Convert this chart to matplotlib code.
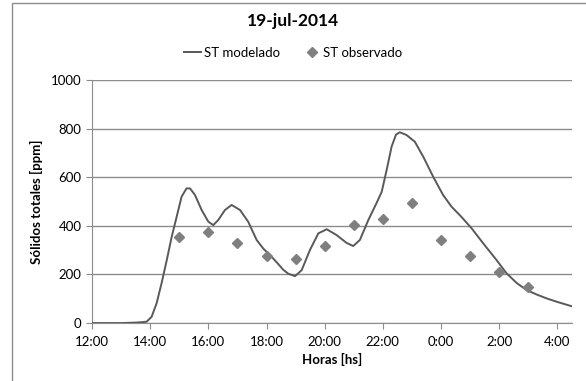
import matplotlib.pyplot as plt
from matplotlib.patches import Rectangle

# hours after 12:00
model_h = [0.0, 1.0, 1.5, 1.75, 1.88, 2.05, 2.22, 2.39, 2.57, 2.74, 2.91, 3.08, 3.25,
           3.37, 3.54, 3.77, 4.0, 4.17, 4.34, 4.57, 4.8, 5.09, 5.37, 5.66, 5.9,
           6.12, 6.35, 6.57, 6.75, 6.98, 7.21, 7.49, 7.78, 8.07, 8.41, 8.75,
           8.98, 9.21, 9.5, 9.78, 9.96, 10.13, 10.3, 10.45, 10.58, 10.81, 11.1,
           11.39, 11.73, 12.07, 12.36, 12.7, 13.05, 13.45, 13.91, 14.25, 14.6,
           14.94, 15.3, 15.62, 16.0, 16.5]
model_v = [0, 0, 2, 4, 6, 26, 81, 163, 259, 355, 437, 520, 554,
           554, 527, 465, 417, 403, 424, 465, 486, 465, 417, 342, 305,
           280, 250, 220, 203, 193, 218, 300, 369, 386, 362, 330,
           317, 342, 424, 493, 540, 630, 726, 775, 785, 774, 746,
           684, 602, 527, 479, 437, 390, 328, 259, 205, 165,
           136, 117, 102, 87, 69]

obs_h = [3, 4, 5, 6, 7, 8, 9, 10, 11, 12, 13, 14, 15]
obs_v = [355, 376, 328, 274, 263, 317, 402, 429, 495, 342, 276, 210, 147]

tick_h = [0, 2, 4, 6, 8, 10, 12, 14, 16]
tick_lbl = ["12:00", "14:00", "16:00", "18:00", "20:00", "22:00", "0:00", "2:00", "4:00"]

plt.rcParams['font.family'] = ['Lato', 'DejaVu Sans']

fig = plt.figure(figsize=(5.86, 3.81), dpi=100)
ax = fig.add_axes([0.157, 0.152, 0.819, 0.638])

ax.plot(model_h, model_v, color="#595959", lw=1.4, label="ST modelado", zorder=3,
        solid_joinstyle="round")
ax.plot(obs_h, obs_v, ls="none", marker="D", ms=5.5, color="#7f7f7f",
        label="ST observado", zorder=4)

ax.set_xlim(0, 16.5)
ax.set_ylim(0, 1000)
ax.set_yticks([0, 200, 400, 600, 800, 1000])
ax.set_xticks(tick_h)
ax.set_xticklabels(tick_lbl)
ax.grid(axis="y", color="#8c8c8c", lw=1)
ax.set_axisbelow(True)
for s in ["top", "right"]:
    ax.spines[s].set_visible(False)
for s in ["left", "bottom"]:
    ax.spines[s].set_color("#8c8c8c")
ax.tick_params(colors="#8c8c8c", labelcolor="black", labelsize=9.5, length=4, direction="out")
ax.tick_params(axis="x", pad=5)

ax.set_xlabel("Horas [hs]", fontsize=9.5, fontweight="bold", labelpad=4)
ax.set_ylabel("Sólidos totales [ppm]", fontsize=9.5, fontweight="bold", labelpad=6)

fig.text(0.5, 0.945, "19-jul-2014", ha="center", va="center", fontsize=12.5, fontweight="bold")
fig.legend(loc="center", bbox_to_anchor=(0.5, 0.862), ncol=2, frameon=False,
           fontsize=9.5, handlelength=1.3, handletextpad=0.2, columnspacing=1.8)

fig.patches.append(Rectangle((12 / 586, -0.1), 1.2, 1.1 - 3 / 381, transform=fig.transFigure,
                             fill=False, edgecolor="#8c8c8c", lw=1))

fig.savefig("out.png", dpi=100)
